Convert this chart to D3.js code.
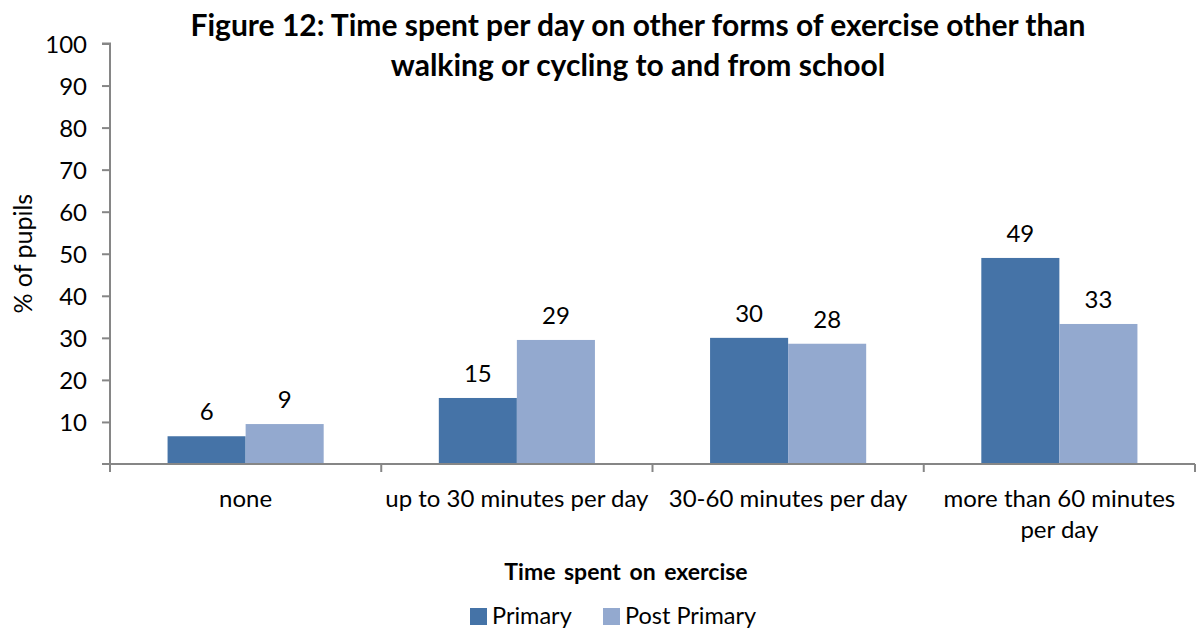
<!DOCTYPE html>
<html>
<head>
<meta charset="utf-8">
<script src="https://cdn.jsdelivr.net/npm/d3@7"></script>
<style>
  html, body { margin: 0; padding: 0; background: #fff; }
  svg { display: block; font-family: Lato, "Open Sans", sans-serif; }
</style>
</head>
<body>
<svg id="chart" width="1196" height="630"></svg>
<script>
const categories = [["none"], ["up to 30 minutes per day"], ["30-60 minutes per day"], ["more than 60 minutes", "per day"]];
const series = ["Primary", "Post Primary"];
const primary = [6.6, 15.7, 30.0, 49.0];
const postPrimary = [9.5, 29.5, 28.6, 33.3];
const yTicks = [10, 20, 30, 40, 50, 60, 70, 80, 90, 100];
const colors = ["#4573A7", "#93A9CF"];
const titleLines = ["Figure 12: Time spent per day on other forms of exercise other than", "walking or cycling to and from school"];
const yTitle = "% of pupils";
const xTitle = "Time spent on exercise";

const svg = d3.select("#chart");
const mLeft = 110, mRight = 1195, mTop = 43.5, mBottom = 464;
const axisColor = "#868686";

const x0 = d3.scaleBand().domain(d3.range(categories.length)).range([mLeft, mRight]).paddingInner(0).paddingOuter(0);
const x1 = d3.scaleBand().domain(series).range([0, x0.bandwidth()]).paddingInner(0).paddingOuter(0.7375);
const y = d3.scaleLinear().domain([0, 100]).range([mBottom, mTop]);
const color = d3.scaleOrdinal().domain(series).range(colors);

const data = categories.map((c, i) => ({ i, values: [primary[i], postPrimary[i]] }));

// Title
const title = svg.append("text").attr("x", 638).attr("font-weight", "bold").attr("font-size", 30).attr("text-anchor", "middle").attr("fill", "#000");
titleLines.forEach((l, k) => title.append("tspan").attr("x", 638).attr("y", 36 + k * 40).text(l));

// Bars
const g = svg.append("g");
const groups = g.selectAll("g.cat").data(data).join("g").attr("class", "cat").attr("transform", d => `translate(${x0(d.i)},0)`);
groups.selectAll("rect").data(d => d.values.map((v, k) => ({ s: series[k], v })))
  .join("rect")
  .attr("x", d => x1(d.s)).attr("width", x1.bandwidth())
  .attr("y", d => y(d.v)).attr("height", d => y(0) - y(d.v))
  .attr("fill", d => color(d.s));
groups.selectAll("text.val").data(d => d.values.map((v, k) => ({ s: series[k], v })))
  .join("text").attr("class", "val")
  .attr("x", d => x1(d.s) + x1.bandwidth() / 2).attr("y", d => y(d.v) - 16)
  .attr("text-anchor", "middle").attr("font-size", 24).attr("fill", "#000")
  .text(d => Math.floor(d.v));

// Y axis
const yAxis = d3.axisLeft(y).tickValues(yTicks).tickSize(8).tickPadding(15);
const ya = svg.append("g").attr("transform", `translate(${mLeft},0)`).call(yAxis);
ya.select(".domain").attr("stroke", axisColor).attr("stroke-width", 2).attr("d", `M-8,${y(100)}H0V${y(0)}`);
ya.selectAll(".tick line").attr("stroke", axisColor).attr("stroke-width", 2);
ya.selectAll(".tick text").attr("font-size", 24).attr("font-family", "Lato").attr("fill", "#000").attr("dy", "0.36em");

// X axis
const xa = svg.append("g").attr("transform", `translate(0,${mBottom})`);
xa.append("path").attr("d", `M${mLeft - 8},0H${mRight}`).attr("stroke", axisColor).attr("stroke-width", 2).attr("fill", "none");
const xTickPos = d3.range(categories.length + 1).map(i => i < categories.length ? x0(i) : x0(i - 1) + x0.bandwidth());
xa.selectAll("line.xt").data(xTickPos).join("line").attr("class", "xt")
  .attr("x1", d => d).attr("x2", d => d).attr("y1", 0).attr("y2", 8)
  .attr("stroke", axisColor).attr("stroke-width", 2);
const cl = xa.selectAll("text.cat").data(categories).join("text").attr("class", "cat")
  .attr("text-anchor", "middle").attr("font-size", 24).attr("fill", "#000");
cl.each(function(lines, i) {
  const t = d3.select(this);
  lines.forEach((l, k) => t.append("tspan").attr("x", x0(i) + x0.bandwidth() / 2).attr("y", 43 + k * 31).text(l));
});

// Axis titles
svg.append("text").attr("transform", `translate(32,${(mTop + mBottom) / 2}) rotate(-90)`)
  .attr("text-anchor", "middle").attr("font-size", 25).attr("fill", "#000").text(yTitle);
svg.append("text").attr("x", 626).attr("y", 580).attr("text-anchor", "middle")
  .attr("font-size", 23).attr("font-weight", "bold").attr("word-spacing", 3).attr("fill", "#000").text(xTitle);

// Legend
const legendX = [470, 603];
const lg = svg.selectAll("g.leg").data(series).join("g").attr("class", "leg")
  .attr("transform", (d, i) => `translate(${legendX[i]},608)`);
lg.append("rect").attr("width", 17).attr("height", 17).attr("fill", d => color(d));
lg.append("text").attr("x", 22).attr("y", 16).attr("font-size", 23.5).attr("fill", "#000").text(d => d);
</script>
</body>
</html>
